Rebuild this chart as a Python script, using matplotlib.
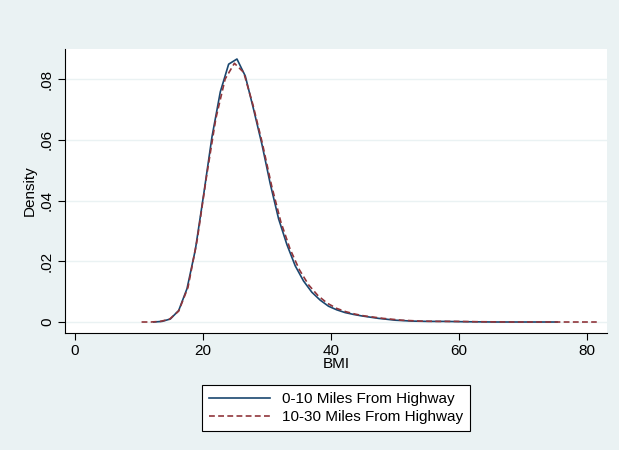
import matplotlib.pyplot as plt

plt.rcParams['font.family'] = ['Liberation Sans', 'DejaVu Sans']

# kernel density estimates
bmi_near = [12.3, 13.6, 14.9, 16.2, 17.5, 18.8, 20.1, 21.4, 22.7, 24.0, 25.3, 26.6,
            27.9, 29.2, 30.5, 31.8, 33.1, 34.4, 35.7, 37.0, 38.3, 39.6, 40.9, 42.2,
            43.5, 44.8, 46.1, 47.4, 48.7, 50.0, 52.6, 55.2, 57.8, 60.4, 65.6, 70.8, 75.3]
dens_near = [0.0, 0.0002, 0.0010, 0.0038, 0.0110, 0.0238, 0.0420, 0.0610, 0.0758, 0.0849,
             0.0866, 0.0810, 0.0700, 0.0585, 0.0455, 0.0340, 0.0255, 0.0185, 0.0135, 0.0098,
             0.0072, 0.0052, 0.0040, 0.0031, 0.0025, 0.0020, 0.0016, 0.0012, 0.0009, 0.0006,
             0.0003, 0.0002, 0.0002, 0.0001, 0.0, 0.0, 0.0]

bmi_far = [10.4, 11.85, 13.3, 14.75, 16.2, 17.65, 19.1, 20.55, 22.0, 23.45, 24.9, 26.35,
           27.8, 29.25, 30.7, 32.15, 33.6, 35.05, 36.5, 37.95, 39.4, 40.85, 42.3, 43.75,
           45.2, 46.65, 48.1, 49.55, 51.0, 53.9, 56.8, 59.7, 62.6, 68.4, 74.2, 81.5]
dens_far = [0.0, 0.0, 0.0002, 0.0009, 0.0036, 0.0114, 0.0272, 0.0480, 0.0670, 0.0800,
            0.0852, 0.0822, 0.0715, 0.0590, 0.0450, 0.0330, 0.0240, 0.0172, 0.0122, 0.0087,
            0.0062, 0.0045, 0.0034, 0.0026, 0.0020, 0.0016, 0.0012, 0.0009, 0.0006, 0.0003,
            0.0002, 0.0002, 0.0001, 0.0, 0.0, 0.0]

xticks = [0, 20, 40, 60, 80]
yticks = [0, 0.02, 0.04, 0.06, 0.08]
ylabels = ['0', '.02', '.04', '.06', '.08']

bg = '#eaf2f3'
fig = plt.figure(figsize=(6.19, 4.5), dpi=100, facecolor=bg)
ax = fig.add_axes([65/619, 1-333/450, (607-65)/619, (333-49)/450])
ax.set_facecolor('white')

for y in yticks:
    ax.axhline(y, color=bg, lw=1.0, zorder=0)

ax.plot(bmi_near, dens_near, color='#1a476f', lw=1.2, label='0-10 Miles From Highway')
ax.plot(bmi_far, dens_far, color='#90353b', lw=1.2, dashes=(3.5, 2.0),
        label='10-30 Miles From Highway')

ax.set_xlim(-1.56, 83.1)
ax.set_ylim(-0.00362, 0.0899)
ax.set_xticks(xticks)
ax.set_yticks(yticks)
ax.set_yticklabels(ylabels, rotation=90, va='center')
ax.tick_params(labelsize=11, length=5, width=0.8, color='black', pad=3)

for s in ['top', 'right']:
    ax.spines[s].set_visible(False)
for s in ['left', 'bottom']:
    ax.spines[s].set_linewidth(0.8)

ax.set_xlabel('BMI', fontsize=11, labelpad=-1)
ax.set_ylabel('Density', fontsize=11, labelpad=2)

leg = fig.legend(loc='center', bbox_to_anchor=(336/619, 1-408/450), fontsize=11,
                 fancybox=False, framealpha=1, edgecolor='black', handlelength=4.0,
                 borderpad=0.45, labelspacing=0.25, handletextpad=0.8)
leg.get_frame().set_linewidth(0.8)

fig.savefig('out.png', dpi=100, facecolor=bg)
